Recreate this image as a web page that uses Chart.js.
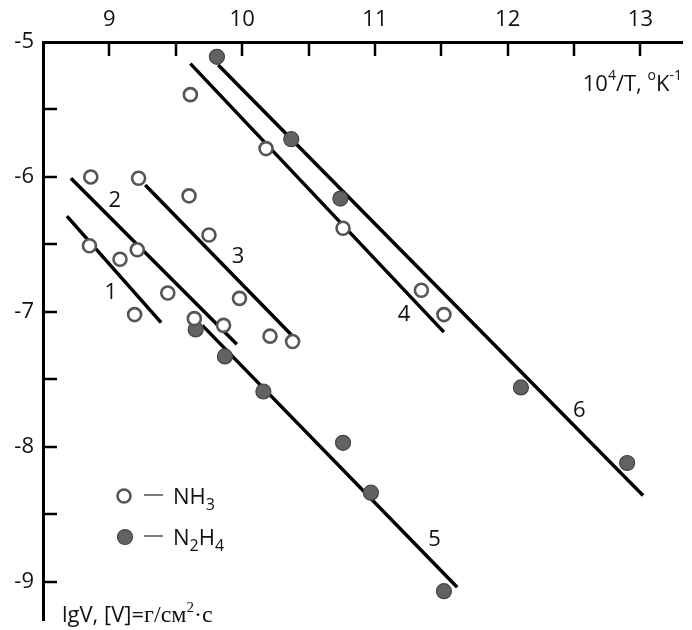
<!DOCTYPE html>
<html>
<head>
<meta charset="utf-8">
<script src="https://cdn.jsdelivr.net/npm/chart.js@4"></script>
<style>
  body { margin: 0; background: #fff; }
</style>
</head>
<body>
<canvas id="chart" width="692" height="630"></canvas>
<script>
// NH3 (open circles)
const nh3X = [9.61, 10.18, 8.86, 9.22, 9.60, 9.75, 10.76, 8.85, 9.21, 9.08, 9.44, 9.98, 9.19, 9.64, 9.86, 10.21, 10.38, 11.35, 11.52];
const nh3Y = [-5.39, -5.79, -6.00, -6.01, -6.14, -6.43, -6.38, -6.51, -6.54, -6.61, -6.86, -6.90, -7.02, -7.05, -7.10, -7.18, -7.22, -6.84, -7.02];

// N2H4 (filled circles)
const n2h4X = [9.81, 10.37, 10.74, 9.65, 9.87, 10.16, 10.76, 10.97, 11.52, 12.10, 12.90];
const n2h4Y = [-5.11, -5.72, -6.16, -7.13, -7.33, -7.59, -7.97, -8.34, -9.07, -7.56, -8.12];

// fitted lines 1..6
const lineNames = ['1', '2', '3', '4', '5', '6'];
const lineX1 = [8.68, 8.71, 9.27, 9.61, 9.70, 9.82];
const lineY1 = [-6.29, -6.01, -6.06, -5.16, -7.10, -5.17];
const lineX2 = [9.39, 9.96, 10.37, 11.52, 11.62, 13.02];
const lineY2 = [-7.08, -7.24, -7.17, -7.15, -9.04, -8.36];
const nameX = [9.01, 9.04, 9.97, 11.22, 11.45, 12.54];
const nameY = [-6.86, -6.18, -6.59, -7.02, -8.69, -7.73];

const xTicks = [9, 10, 11, 12, 13];
const yTicks = [-9, -8, -7, -6, -5];

const sans = '"Open Sans", "Liberation Sans", sans-serif';
const serif = '"Liberation Serif", "DejaVu Serif", serif';

const toPoints = (xs, ys) => xs.map((x, i) => ({ x: x, y: ys[i] }));

const datasets = [
  {
    label: 'NH3',
    data: toPoints(nh3X, nh3Y),
    pointRadius: 6.5,
    pointBorderWidth: 2.6,
    pointBorderColor: '#555',
    pointBackgroundColor: '#fff',
    order: 1
  },
  {
    label: 'N2H4',
    data: toPoints(n2h4X, n2h4Y),
    pointRadius: 7.5,
    pointBorderWidth: 1.2,
    pointBorderColor: '#444',
    pointBackgroundColor: '#626262',
    order: 1
  }
];

lineNames.forEach((name, i) => {
  datasets.push({
    label: 'line ' + name,
    data: [{ x: lineX1[i], y: lineY1[i] }, { x: lineX2[i], y: lineY2[i] }],
    showLine: true,
    borderColor: '#000',
    borderWidth: 3.5,
    pointRadius: 0,
    order: 2
  });
});

// rich text: parts drawn one after another on a shared baseline
function drawRich(c, x, y, parts) {
  parts.forEach(p => {
    c.font = p.font;
    c.fillText(p.t, x, y + (p.dy || 0));
    x += c.measureText(p.t).width;
  });
}
function richWidth(c, parts) {
  let w = 0;
  parts.forEach(p => { c.font = p.font; w += c.measureText(p.t).width; });
  return w;
}

const decor = {
  id: 'decor',
  afterDatasetsDraw(chart) {
    const c = chart.ctx;
    const xs = chart.scales.x, ys = chart.scales.y;
    const area = chart.chartArea;
    c.save();
    c.strokeStyle = '#000';
    c.lineWidth = 2.5;
    // inward tick marks every 0.5
    for (let v = 9; v <= 13; v += 0.5) {
      const px = Math.round(xs.getPixelForValue(v));
      c.beginPath();
      c.moveTo(px, area.top);
      c.lineTo(px, area.top + 14);
      c.stroke();
    }
    for (let v = -5.5; v >= -9; v -= 0.5) {
      const py = Math.round(ys.getPixelForValue(v));
      c.beginPath();
      c.moveTo(area.left, py);
      c.lineTo(area.left + 14, py);
      c.stroke();
    }

    c.fillStyle = '#111';
    c.textAlign = 'center';
    c.textBaseline = 'middle';
    c.font = '22px ' + sans;
    lineNames.forEach((name, i) => {
      c.fillText(name, xs.getPixelForValue(nameX[i]), ys.getPixelForValue(nameY[i]));
    });

    // axis titles
    c.textAlign = 'left';
    c.textBaseline = 'alphabetic';
    const big = '22px ' + sans, small = '14px ' + sans;
    const xTitle = [
      { t: '10', font: big }, { t: '4', font: small, dy: -11 },
      { t: '/T, ', font: big }, { t: 'o', font: small, dy: -11 },
      { t: 'K', font: big }, { t: '-1', font: small, dy: -11 }
    ];
    drawRich(c, area.right - richWidth(c, xTitle) - 1, 91, xTitle);

    drawRich(c, area.left + 19, 622, [
      { t: 'lgV, [V]=', font: big },
      { t: 'г/см', font: '24px ' + serif },
      { t: '2', font: '15px ' + serif, dy: -10 },
      { t: '·с', font: '24px ' + serif }
    ]);

    // legend
    const lx = area.left + 81;
    c.beginPath();
    c.arc(lx, 496, 6.5, 0, Math.PI * 2);
    c.fillStyle = '#fff';
    c.fill();
    c.lineWidth = 2.6;
    c.strokeStyle = '#555';
    c.stroke();
    c.beginPath();
    c.arc(lx + 1, 537, 7.5, 0, Math.PI * 2);
    c.fillStyle = '#626262';
    c.fill();
    c.lineWidth = 1.2;
    c.strokeStyle = '#444';
    c.stroke();

    c.fillStyle = '#111';
    c.strokeStyle = '#333';
    c.lineWidth = 1.3;
    [496, 537].forEach(y => {
      c.beginPath();
      c.moveTo(lx + 20, y - 1);
      c.lineTo(lx + 39, y - 1);
      c.stroke();
    });
    drawRich(c, lx + 49, 504, [{ t: 'NH', font: big }, { t: '3', font: '16px ' + sans, dy: 6 }]);
    drawRich(c, lx + 49, 545, [
      { t: 'N', font: big }, { t: '2', font: '16px ' + sans, dy: 6 },
      { t: 'H', font: big }, { t: '4', font: '16px ' + sans, dy: 6 }
    ]);
    c.restore();
  }
};

new Chart(document.getElementById('chart'), {
  type: 'scatter',
  data: { datasets: datasets },
  options: {
    responsive: false,
    animation: false,
    layout: { padding: { left: 0, top: 0, right: 4, bottom: 7 } },
    plugins: { legend: { display: false }, tooltip: { enabled: false } },
    scales: {
      x: {
        position: 'top',
        min: 8.5,
        max: 13.32,
        grid: { display: false, drawTicks: false },
        border: { display: true, color: '#000', width: 3 },
        afterBuildTicks: s => { s.ticks = xTicks.map(v => ({ value: v })); },
        ticks: { padding: 9, color: '#111', font: { family: sans, size: 22 } },
        afterFit: s => { s.height = 42; s.paddingLeft = 0; s.paddingRight = 0; }
      },
      y: {
        min: -9.29,
        max: -5,
        grid: { display: false, drawTicks: false },
        border: { display: true, color: '#000', width: 3 },
        afterBuildTicks: s => { s.ticks = yTicks.map(v => ({ value: v })); },
        ticks: { padding: 9, color: '#111', font: { family: sans, size: 22 } },
        afterFit: s => { s.width = 43; s.paddingTop = 0; s.paddingBottom = 0; }
      }
    }
  },
  plugins: [decor]
});
</script>
</body>
</html>
